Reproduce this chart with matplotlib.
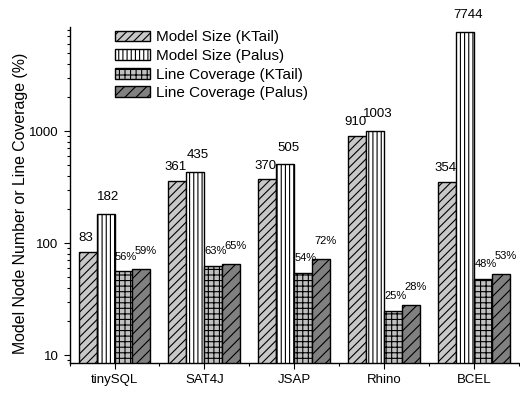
import matplotlib
matplotlib.use("Agg")
import matplotlib.pyplot as plt
import numpy as np

plt.rcParams["font.family"] = ["Liberation Sans", "DejaVu Sans"]
plt.rcParams["hatch.linewidth"] = 0.8

projects = ["tinySQL", "SAT4J", "JSAP", "Rhino", "BCEL"]
size_ktail = [83, 361, 370, 910, 354]
size_palus = [182, 435, 505, 1003, 7744]
cov_ktail = [56, 63, 54, 25, 48]
cov_palus = [59, 65, 72, 28, 53]

series = [
    ("Model Size (KTail)", size_ktail, "#c8c8c8", "////"),
    ("Model Size (Palus)", size_palus, "white", "||||"),
    ("Line Coverage (KTail)", cov_ktail, "#c0c0c0", "+++"),
    ("Line Coverage (Palus)", cov_palus, "#808080", "///"),
]
# label offsets (points) above each series' bars
label_dx = [-1.5, 2, 1.5, 3]
label_dy = [10, 12, 10.5, 13]

fig = plt.figure(figsize=(5.2, 3.93), dpi=100)
ax = fig.add_axes([0.1337, 0.0763, 0.865, 0.855])

x = np.arange(len(projects))
w = 0.2
offsets = [-1.5 * w, -0.5 * w, 0.5 * w, 1.5 * w]

for i, (name, vals, color, hatch) in enumerate(series):
    bars = ax.bar(x + offsets[i], vals, w, color=color, edgecolor="black",
                  linewidth=1.0, hatch=hatch, label=name)
    for b, v in zip(bars, vals):
        cx = b.get_x() + b.get_width() / 2
        text = str(v) if i < 2 else "%d%%" % v
        ax.annotate(text, xy=(cx, v), xytext=(label_dx[i], label_dy[i]),
                    textcoords="offset points", ha="center", va="center",
                    fontsize=9.5 if i < 2 else 8)

ax.set_yscale("log")
ax.set_ylim(8.5, 8500)
ax.set_xlim(-0.5, 4.5)

ax.set_xticks(x)
ax.set_xticklabels(projects, fontsize=9.5)
ax.set_xticks(np.arange(len(projects) + 1) - 0.5, minor=True)
ax.set_yticks([10, 100, 1000])
ax.set_yticklabels(["10", "100", "1000"], fontsize=9.5)
ax.tick_params(axis="both", which="major", direction="out", length=4.5, width=0.8)
ax.tick_params(axis="both", which="minor", direction="out", length=2.5, width=0.8)
ax.tick_params(axis="y", which="minor", labelleft=False)

for s in ["top", "right"]:
    ax.spines[s].set_visible(False)
for s in ["left", "bottom"]:
    ax.spines[s].set_linewidth(1.0)

ylab = ax.set_ylabel("Model Node Number or Line Coverage (%)", fontsize=11.4)
ylab.set_va("center")
ax.yaxis.set_label_coords(-0.11, 0.476)

ax.legend(loc="upper left", bbox_to_anchor=(0.1, 0.99), frameon=False, fontsize=11,
          borderpad=0, borderaxespad=0, handlelength=2.3, handleheight=0.72,
          handletextpad=0.4, labelspacing=0.3)

fig.savefig("out.png", dpi=100)
